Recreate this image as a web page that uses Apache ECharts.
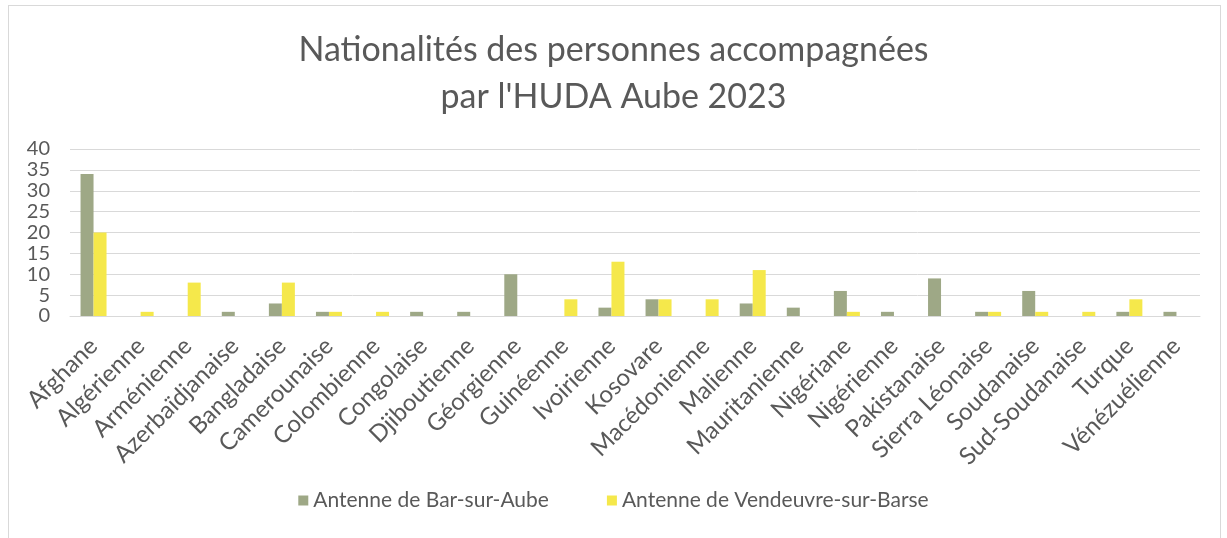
<!DOCTYPE html>
<html>
<head>
<meta charset="utf-8" />
<title>Nationalités HUDA Aube 2023</title>
<script src="https://cdn.jsdelivr.net/npm/echarts@6/dist/echarts.min.js"></script>
<style>
  html, body { margin: 0; padding: 0; background: #fff; }
  #frame { position: absolute; left: 8px; top: 5px; width: 1213px; height: 540px; border: 1px solid #d9d9d9; box-sizing: border-box; }
  #chart { position: absolute; left: 0; top: 0; width: 1227px; height: 538px; }
</style>
</head>
<body>
<div id="frame"></div>
<div id="chart"></div>
<script>
// catégories (nationalités)
var nationalites = ['Afghane', 'Algérienne', 'Arménienne', 'Azerbaïdjanaise', 'Bangladaise', 'Camerounaise',
  'Colombienne', 'Congolaise', 'Djiboutienne', 'Géorgienne', 'Guinéenne', 'Ivoirienne', 'Kosovare',
  'Macédonienne', 'Malienne', 'Mauritanienne', 'Nigériane', 'Nigérienne', 'Pakistanaise',
  'Sierra Léonaise', 'Soudanaise', 'Sud-Soudanaise', 'Turque', 'Vénézuélienne'];
var barSurAube = [34, 0, 0, 1, 3, 1, 0, 1, 1, 10, 0, 2, 4, 0, 3, 2, 6, 1, 9, 1, 6, 0, 1, 1];
var vendeuvre = [20, 1, 8, 0, 8, 1, 1, 0, 0, 0, 4, 13, 4, 4, 11, 0, 1, 0, 0, 1, 1, 1, 4, 0];
var yTicks = [0, 5, 10, 15, 20, 25, 30, 35, 40];

var police = 'Lato, "Open Sans", sans-serif';
var myChart = echarts.init(document.getElementById('chart'));

function nz(arr) {
  // Excel n'affiche rien pour les valeurs nulles
  return arr.map(function(v) { return v === 0 ? '-' : v; });
}

myChart.setOption({
  animation: false,
  textStyle: { fontFamily: police },
  title: {
    text: 'Nationalités des personnes accompagnées\npar l\'HUDA Aube 2023',
    left: 'center',
    top: 22,
    textStyle: { fontFamily: police, fontSize: 34, fontWeight: 'normal', color: '#595959', lineHeight: 47 }
  },
  legend: {
    bottom: 22,
    left: 'center',
    itemWidth: 10,
    itemHeight: 10,
    itemGap: 58,
    icon: 'rect',
    textStyle: { fontFamily: police, fontSize: 21, color: '#595959' }
  },
  grid: { left: 70, right: 27, top: 149, bottom: 222, containLabel: false },
  xAxis: {
    type: 'category',
    data: nationalites,
    axisTick: { show: false },
    axisLine: { lineStyle: { color: '#d9d9d9', width: 1 } },
    axisLabel: { rotate: 45, interval: 0, fontSize: 24, color: '#595959', fontFamily: police, margin: 26 }
  },
  yAxis: {
    type: 'value',
    min: yTicks[0],
    max: yTicks[yTicks.length - 1],
    interval: 5,
    axisLabel: { fontSize: 20, color: '#595959', fontFamily: police, margin: 20 },
    splitLine: { lineStyle: { color: '#d9d9d9', width: 1 } },
    axisLine: { show: false },
    axisTick: { show: false }
  },
  series: [
    {
      name: 'Antenne de Bar-sur-Aube',
      type: 'bar',
      data: nz(barSurAube),
      barWidth: 13,
      barGap: '0%',
      itemStyle: { color: '#9ea886' }
    },
    {
      name: 'Antenne de Vendeuvre-sur-Barse',
      type: 'bar',
      data: nz(vendeuvre),
      barWidth: 13,
      barGap: '0%',
      itemStyle: { color: '#f5e84b' }
    }
  ]
});

window.onresize = function() {
  myChart.resize();
};
</script>
</body>
</html>
